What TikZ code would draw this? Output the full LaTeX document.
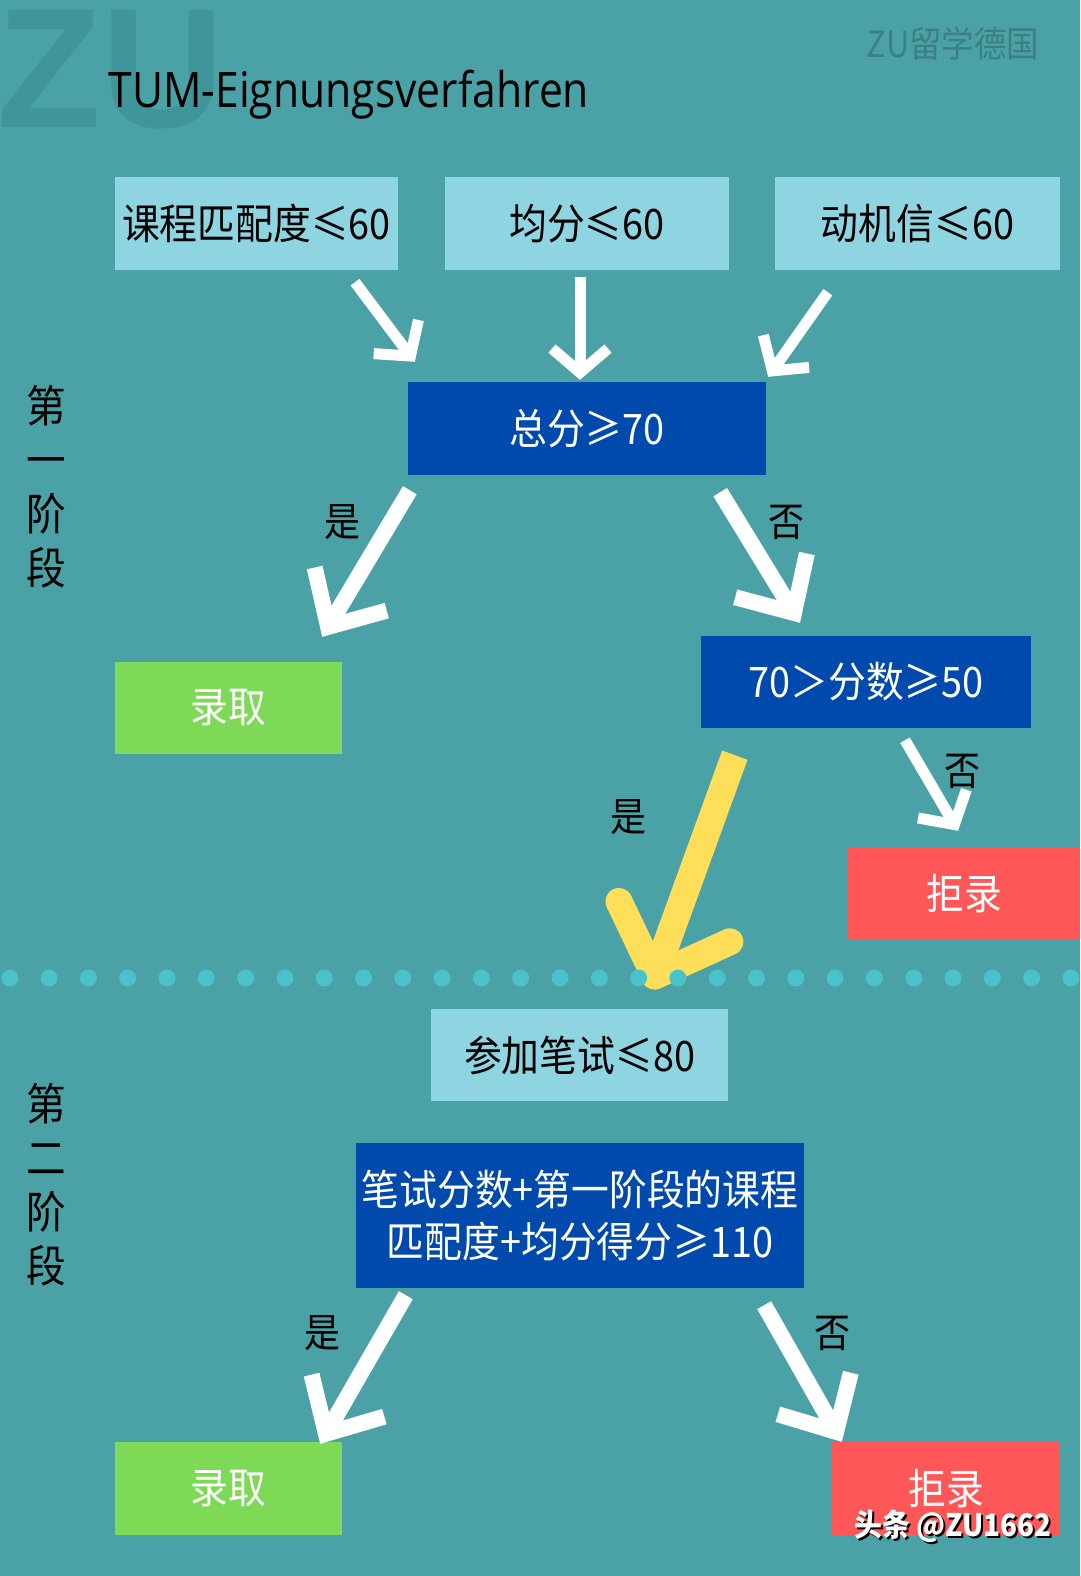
\documentclass[tikz,border=0pt]{standalone}
\usepackage{fontspec}
\setmainfont{Open Sans}
\newfontfamily\cjk[FakeStretch=0.9]{Noto Sans CJK SC}
\newfontfamily\titlefont[FakeStretch=0.87]{Open Sans}
\newfontfamily\markfont{Liberation Sans}
\usetikzlibrary{arrows.meta}
\definecolor{bgteal}{HTML}{4AA2A6}
\definecolor{markteal}{HTML}{40959A}
\definecolor{logoteal}{HTML}{3D7F83}
\definecolor{lightbox}{HTML}{8ED5E1}
\definecolor{darkbox}{HTML}{004AAD}
\definecolor{okgreen}{HTML}{7ED957}
\definecolor{nored}{HTML}{FF5757}
\definecolor{yesyellow}{HTML}{FFDE59}
\definecolor{dotcyan}{HTML}{4BC1CA}
\tikzset{
  box/.style={inner sep=0pt, minimum height=93pt, align=center, font=\cjk\fontsize{42}{52}\selectfont},
  inbox/.style={box, fill=lightbox, text=black},
  testbox/.style={box, fill=darkbox, text=white},
  admitbox/.style={box, fill=okgreen, text=white},
  rejectbox/.style={box, fill=nored, text=white},
  answer/.style={font=\cjk\fontsize{40}{48}\selectfont, text=black},
  stage/.style={align=center, font=\cjk\fontsize{44}{54}\selectfont, text=black},
  thinarrow/.style={draw=white, line width=11pt, -{Straight Barb[length=24pt,width=56pt]}},
  thickarrow/.style={draw=white, line width=16pt, -{Straight Barb[length=44pt,width=84pt]}},
}
\begin{document}
\begin{tikzpicture}[x=1pt,y=-1pt]
  \fill[bgteal] (0,0) rectangle (1080,1576);
  \useasboundingbox (0,0) rectangle (1080,1576);
  \node[anchor=base west, text=markteal, font=\markfont\bfseries\fontsize{170}{170}\selectfont] (zumark) at (-6,128) {ZU};
  \node[text=logoteal, font=\cjk\fontsize{36}{40}\selectfont] (logo) at (953,44) {ZU留学德国};
  \node[anchor=base west, text=black, font=\titlefont\fontsize{49}{56}\selectfont] (title) at (105,108) {TUM-Eignungsverfahren};

  \node[inbox, minimum width=283pt] (kc) at (256.5,223.5) {课程匹配度≤60};
  \node[inbox, minimum width=284pt] (jf) at (587,223.5) {均分≤60};
  \node[inbox, minimum width=285pt] (dj) at (917.5,223.5) {动机信≤60};
  \node[testbox, minimum width=358pt] (zf) at (587,428.5) {总分≥70};
  \node[admitbox, minimum width=227pt, minimum height=92pt] (ly1) at (228.5,708) {录取};
  \node[testbox, minimum width=330pt, minimum height=92pt] (fs) at (866,682) {70＞分数≥50};
  \node[rejectbox, minimum width=232pt, minimum height=92pt] (jl1) at (964,894) {拒录};

  \draw[thinarrow] ([shift={(98.5,12)}]kc.south) -- ([shift={(7,-20)}]zf.north west);
  \draw[thinarrow] ([shift={(-7,7)}]jf.south) -- ([shift={(-7,-2)}]zf.north);
  \draw[thinarrow] ([shift={(53,22)}]dj.south west) -- ([shift={(2,-5)}]zf.north east);
  \draw[thickarrow] ([shift={(2,15)}]zf.south west) -- ([shift={(-20,-25)}]ly1.north east);
  \draw[thickarrow] ([shift={(-46,17)}]zf.south east) -- ([shift={(-66,-13)}]fs.north);
  \draw[thinarrow] ([shift={(39,12)}]fs.south) -- ([shift={(-6,-17)}]jl1.north);
  \node[answer] (yes1) at (342,522) {是};
  \node[answer] (no1) at (786,522) {否};
  \node[answer] (no2) at (962,771) {否};
  \node[answer] (yes2) at (628,817) {是};

  \node[inbox, minimum width=297pt, minimum height=92pt] (bs) at (579.5,1055) {参加笔试≤80};
  \draw[draw=yesyellow, line width=27pt, -{Straight Barb[length=58pt,width=118pt,round]}] ([shift={(34,27)}]fs.south west) -- ([shift={(70.5,-20)}]bs.north);
  \foreach \i in {0,...,27}
    \fill[dotcyan] (9.8+39.3*\i,978) circle[radius=8.5pt];

  \node[testbox, minimum width=448pt, minimum height=145pt] (zh) at (580,1215.5) {笔试分数+第一阶段的课程\\匹配度+均分得分≥110};
  \node[admitbox, minimum width=227pt] (ly2) at (228.5,1488.5) {录取};
  \node[rejectbox, minimum width=228pt, minimum height=94pt] (jl2) at (946,1489) {拒录};
  \draw[thickarrow] ([shift={(50,7)}]zh.south west) -- ([shift={(-22,2)}]ly2.north east);
  \draw[thickarrow] ([shift={(-40,17)}]zh.south east) -- ([shift={(10,0)}]jl2.north west);
  \node[answer] (yes3) at (322,1333) {是};
  \node[answer] (no3) at (832,1333) {否};

  \node[stage] (stage1) at (46,487) {第\\一\\阶\\段};
  \node[stage] (stage2) at (46,1185) {第\\二\\阶\\段};

  \node[text=black, font=\cjk\bfseries\fontsize{31}{36}\selectfont] (wmshadow) at (955,1528) {头条 @ZU1662};
  \node[text=white, font=\cjk\bfseries\fontsize{31}{36}\selectfont] (wm) at (953,1526) {头条 @ZU1662};
\end{tikzpicture}
\end{document}
